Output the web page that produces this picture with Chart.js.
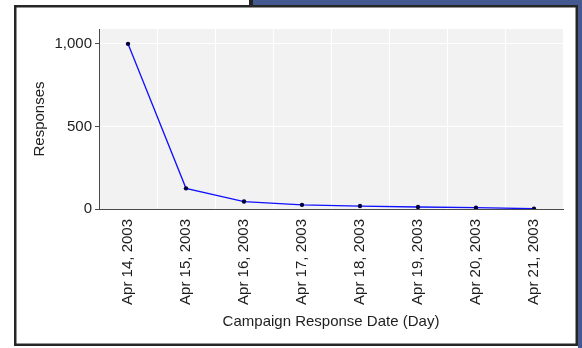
<!DOCTYPE html>
<html>
<head>
<meta charset="utf-8">
<script src="https://cdn.jsdelivr.net/npm/chart.js@4/dist/chart.umd.min.js"></script>
<style>
  html, body { margin: 0; padding: 0; background: #ffffff; }
  #wrap { width: 582px; height: 348px; position: relative; }
  canvas { display: block; }
</style>
</head>
<body>
<div id="wrap"><canvas id="chart" width="582" height="348"></canvas></div>
<script>
// Daily campaign responses
const responseDates = [
  'Apr 14, 2003', 'Apr 15, 2003', 'Apr 16, 2003', 'Apr 17, 2003',
  'Apr 18, 2003', 'Apr 19, 2003', 'Apr 20, 2003', 'Apr 21, 2003'
];
const responseCounts = [1000, 125, 45, 25, 18, 12, 8, 2];
const responseTicks = [0, 500, 1000];

const FONT_FAMILY = '"Liberation Sans", Arial, Helvetica, sans-serif';
const TEXT_COLOR = '#1e1e1e';

// Window frame: white panel with dark border, blue desktop strips at top/right
const framePlugin = {
  id: 'frame',
  beforeDraw(chart) {
    const ctx = chart.ctx;
    const W = chart.width, H = chart.height;
    ctx.save();
    ctx.fillStyle = '#ffffff';
    ctx.fillRect(0, 0, W, H);

    ctx.fillStyle = '#44598f';
    ctx.fillRect(253, 0, W - 253, 6);
    ctx.fillRect(578, 0, W - 578, H);
    ctx.fillStyle = '#222222';
    ctx.fillRect(249, 0, 4, 6);

    ctx.strokeStyle = '#262626';
    ctx.lineWidth = 2.5;
    ctx.strokeRect(15.25, 6.25, 561.5, 338.5);

    // plot background
    const a = chart.chartArea;
    ctx.fillStyle = '#f2f2f2';
    ctx.fillRect(a.left, a.top, a.right - a.left, a.bottom - a.top);
    ctx.restore();
  }
};

new Chart(document.getElementById('chart'), {
  type: 'line',
  data: {
    labels: responseDates,
    datasets: [{
      label: 'Responses',
      data: responseCounts,
      borderColor: '#1010ff',
      borderWidth: 1.3,
      pointRadius: 2.2,
      pointBackgroundColor: '#000040',
      pointBorderColor: '#000040',
      pointBorderWidth: 0,
      tension: 0,
      fill: false
    }]
  },
  options: {
    responsive: false,
    animation: false,
    devicePixelRatio: 1,
    layout: { padding: { left: 0, top: 29, right: 19, bottom: 0 } },
    plugins: {
      legend: { display: false },
      tooltip: { enabled: false }
    },
    scales: {
      x: {
        type: 'category',
        offset: true,
        afterFit(scale) { scale.height = 139; },
        grid: {
          offset: true,
          color: '#ffffff',
          lineWidth: 1,
          drawTicks: false
        },
        border: { display: true, color: '#4a4a4a', width: 1 },
        ticks: {
          autoSkip: false,
          minRotation: 90,
          maxRotation: 90,
          padding: 10,
          color: TEXT_COLOR,
          font: { family: FONT_FAMILY, size: 15 }
        },
        title: {
          display: true,
          text: 'Campaign Response Date (Day)',
          color: TEXT_COLOR,
          font: { family: FONT_FAMILY, size: 15 },
          padding: { top: 0, bottom: 17 }
        }
      },
      y: {
        type: 'linear',
        min: 0,
        max: 1090,
        afterFit(scale) { scale.width = 99; },
        afterBuildTicks(scale) {
          scale.ticks = responseTicks.map(v => ({ value: v }));
        },
        grid: {
          color: '#ffffff',
          tickColor: '#4a4a4a',
          tickLength: 4,
          lineWidth: 1
        },
        border: { display: true, color: '#4a4a4a', width: 1 },
        ticks: {
          padding: 3,
          color: TEXT_COLOR,
          font: { family: FONT_FAMILY, size: 15 },
          callback: v => Number(v).toLocaleString('en-US')
        },
        title: {
          display: true,
          text: 'Responses',
          color: TEXT_COLOR,
          font: { family: FONT_FAMILY, size: 15 },
          padding: { top: 31, bottom: 0 }
        }
      }
    }
  },
  plugins: [framePlugin]
});
</script>
</body>
</html>
